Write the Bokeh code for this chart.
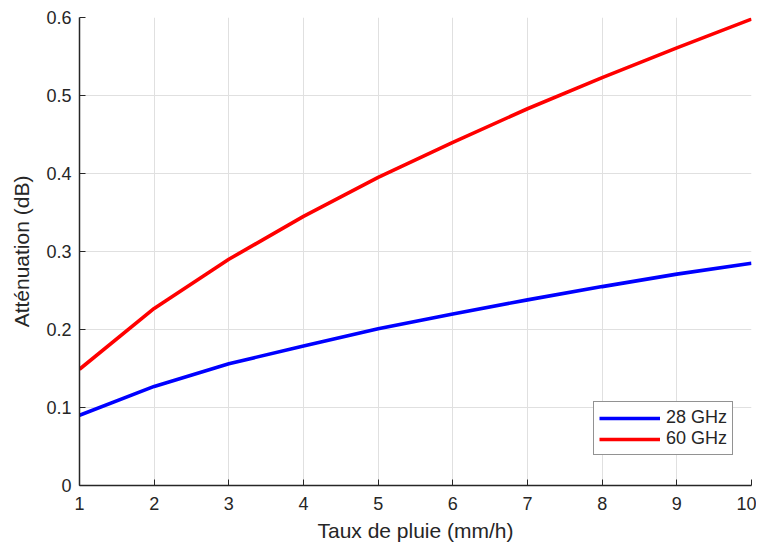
from bokeh.plotting import figure
from bokeh.embed import file_html
from bokeh.resources import INLINE
from bokeh.models import FixedTicker, CustomJSTickFormatter, Range1d, Legend, LegendItem

rain_rate = [1, 2, 3, 4, 5, 6, 7, 8, 9, 10]
att_28ghz = [0.090, 0.127, 0.156, 0.179, 0.201, 0.220, 0.238, 0.255, 0.271, 0.285]
att_60ghz = [0.149, 0.227, 0.290, 0.345, 0.395, 0.440, 0.483, 0.523, 0.561, 0.598]
x_ticks = [1, 2, 3, 4, 5, 6, 7, 8, 9, 10]
y_ticks = [0, 0.1, 0.2, 0.3, 0.4, 0.5, 0.6]

FONT = "Liberation Sans"
DARK = "#262626"

p = figure(width=756, height=536, output_backend="svg", toolbar_location=None,
           x_range=Range1d(1, 10), y_range=Range1d(0, 0.6),
           min_border_left=79, min_border_right=5, min_border_top=17, min_border_bottom=51)
p.frame_width = 672
p.frame_height = 468
p.outline_line_color = None
p.background_fill_color = "white"

r1 = p.line(rain_rate, att_28ghz, line_color="#0000FF", line_width=3.6)
r2 = p.line(rain_rate, att_60ghz, line_color="#FF0000", line_width=3.6)

for ax in (p.xaxis[0], p.yaxis[0]):
    ax.axis_line_color = DARK
    ax.axis_line_width = 1.5
    ax.major_tick_in = 6
    ax.major_tick_out = 0
    ax.major_tick_line_color = DARK
    ax.minor_tick_line_color = None
    ax.major_label_text_font = FONT
    ax.major_label_text_font_size = "18px"
    ax.major_label_text_color = DARK
    ax.axis_label_text_font = FONT
    ax.axis_label_text_font_size = "21px"
    ax.axis_label_text_font_style = "normal"
    ax.axis_label_text_color = DARK

p.xaxis.ticker = FixedTicker(ticks=x_ticks)
p.yaxis.ticker = FixedTicker(ticks=y_ticks)
p.yaxis.formatter = CustomJSTickFormatter(code="return String(Math.round(tick*10)/10);")
p.xaxis.axis_label = "Taux de pluie (mm/h)"
p.yaxis.axis_label = "Atténuation (dB)"
p.xaxis.major_label_standoff = 11
p.yaxis.major_label_standoff = 8
p.xaxis.axis_label_standoff = 6
p.yaxis.axis_label_standoff = 10

p.xgrid.ticker = FixedTicker(ticks=x_ticks)
p.ygrid.ticker = FixedTicker(ticks=y_ticks)
p.grid.grid_line_color = "#e0e0e0"
p.grid.grid_line_width = 1

legend = Legend(items=[LegendItem(label="28 GHz", renderers=[r1]),
                       LegendItem(label="60 GHz", renderers=[r2])],
                location=(514, 30))
legend.label_text_font = FONT
legend.label_text_font_size = "18px"
legend.label_text_color = DARK
legend.glyph_width = 61
legend.glyph_height = 20
legend.label_height = 20
legend.spacing = 0
legend.padding = 5
legend.margin = 0
legend.label_standoff = 6
legend.border_line_color = DARK
legend.border_line_width = 1
legend.background_fill_alpha = 1
p.add_layout(legend)

open("out.html", "w").write(file_html(p, INLINE))
